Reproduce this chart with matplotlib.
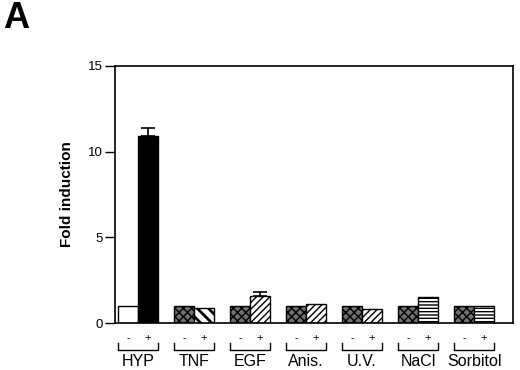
import matplotlib
matplotlib.use('Agg')
import matplotlib.pyplot as plt
import matplotlib.transforms as mtransforms
import numpy as np

plt.rcParams['font.family'] = ['Liberation Sans', 'DejaVu Sans']
plt.rcParams['hatch.linewidth'] = 1.0

# data
groups = ['HYP', 'TNF', 'EGF', 'Anis.', 'U.V.', 'NaCl', 'Sorbitol']
minus_vals = [1.0, 1.0, 1.0, 1.0, 1.0, 1.0, 1.0]
plus_vals = [10.9, 0.9, 1.6, 1.1, 0.8, 1.5, 1.0]
plus_err = [0.5, 0, 0.2, 0, 0, 0, 0]
plus_hatch = [None, '\\\\\\', '/////', '/////', '/////', '-----', '-----']

fig = plt.figure(figsize=(5.2, 3.7), dpi=100)
ax = fig.add_axes([0.221, 0.127, 0.766, 0.695])

x = np.arange(len(groups))
w = 0.355

for i in range(len(groups)):
    if i == 0:
        ax.bar(x[i] - w / 2, minus_vals[i], w, color='white', edgecolor='black', linewidth=1)
        ax.bar(x[i] + w / 2, plus_vals[i], w, color='black', edgecolor='black', linewidth=1)
    else:
        ax.bar(x[i] - w / 2, minus_vals[i], w, color='#707070', edgecolor='black',
               hatch='xxxx', linewidth=1)
        bars = ax.bar(x[i] + w / 2, plus_vals[i], w, color='white', edgecolor='black',
                      hatch=plus_hatch[i], linewidth=1)
        if i == 1:
            for b in bars:
                try:
                    b.set_hatch_linewidth(2.0)
                except AttributeError:
                    pass
    if plus_err[i] > 0:
        ax.errorbar(x[i] + w / 2, plus_vals[i], yerr=[[0], [plus_err[i]]], fmt='none',
                    ecolor='black', elinewidth=1.2, capsize=5, capthick=1.2)

ax.set_xlim(-0.41, 6.7)
ax.set_ylim(0, 15)
ax.set_yticks([0, 5, 10, 15])
ax.tick_params(axis='y', direction='out', length=7, width=1, labelsize=9.5, pad=2)
ax.set_xticks([])
for s in ax.spines.values():
    s.set_linewidth(1.2)
ax.set_ylabel('Fold induction', fontsize=11, fontweight='bold', labelpad=10)

# -/+ labels, brackets and group names below the axis
trans = mtransforms.blended_transform_factory(ax.transData, fig.transFigure)
for i, g in enumerate(groups):
    ax.text(x[i] - w / 2, 1 - 338 / 370, '-', transform=trans, ha='center', va='center', fontsize=8)
    ax.text(x[i] + w / 2, 1 - 338 / 370, '+', transform=trans, ha='center', va='center', fontsize=8)
    yb = 1 - 350 / 370
    yt = 1 - 343 / 370
    ax.plot([x[i] - w, x[i] - w, x[i] + w, x[i] + w], [yt, yb, yb, yt], color='black',
            linewidth=1, transform=trans, clip_on=False)
    ax.text(x[i], 1 - 361 / 370, g, transform=trans, ha='center', va='center', fontsize=11.5)

fig.text(0.006, 0.998, 'A', fontsize=26, fontweight='bold', ha='left', va='top')

fig.savefig('out.png', dpi=100)
